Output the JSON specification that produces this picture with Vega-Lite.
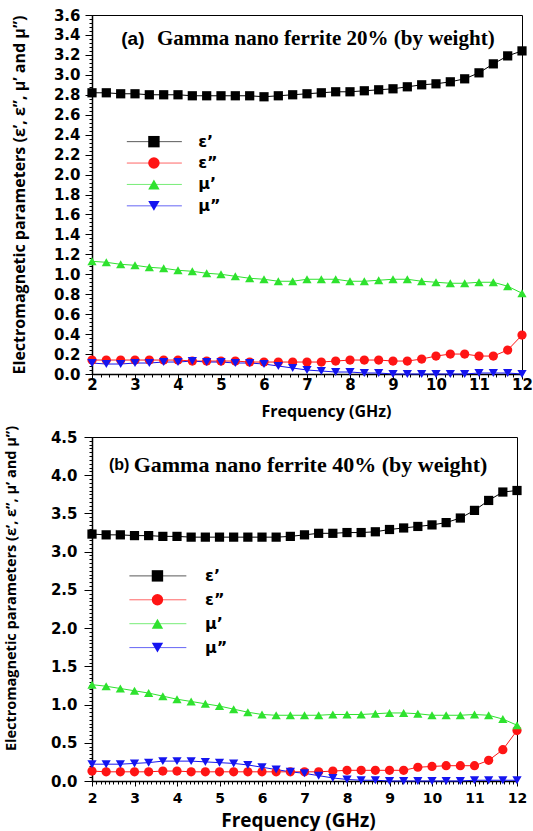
{
  "$schema": "https://vega.github.io/schema/vega-lite/v6.json",
  "padding": {"left": 2, "top": 7, "right": 5, "bottom": 0},
  "background": "white",
  "spacing": 4,
  "config": {
    "view": {"stroke": "#000", "strokeWidth": 1},
    "axis": {
      "grid": false, "domainColor": "#000", "domainWidth": 1.5, "tickColor": "#000", "tickWidth": 1,
      "labelColor": "#000", "labelFont": "DejaVu Sans", "labelFontWeight": "bold",
      "titleColor": "#000", "titleFont": "Open Sans", "titleFontWeight": "bold",
      "labelOverlap": false, "labelFlush": false
    }
  },
  "datasets": {
    "a": [
      {"f": 2, "ε’": 2.82, "ε”": 0.14, "μ’": 1.13, "μ”": 0.11},
      {"f": 2.333, "ε’": 2.82, "ε”": 0.14, "μ’": 1.12, "μ”": 0.10},
      {"f": 2.667, "ε’": 2.81, "ε”": 0.14, "μ’": 1.10, "μ”": 0.10},
      {"f": 3, "ε’": 2.81, "ε”": 0.14, "μ’": 1.09, "μ”": 0.11},
      {"f": 3.333, "ε’": 2.80, "ε”": 0.14, "μ’": 1.07, "μ”": 0.11},
      {"f": 3.667, "ε’": 2.80, "ε”": 0.14, "μ’": 1.06, "μ”": 0.12},
      {"f": 4, "ε’": 2.80, "ε”": 0.14, "μ’": 1.04, "μ”": 0.12},
      {"f": 4.333, "ε’": 2.79, "ε”": 0.13, "μ’": 1.03, "μ”": 0.13},
      {"f": 4.667, "ε’": 2.79, "ε”": 0.13, "μ’": 1.01, "μ”": 0.12},
      {"f": 5, "ε’": 2.79, "ε”": 0.13, "μ’": 1.00, "μ”": 0.12},
      {"f": 5.333, "ε’": 2.79, "ε”": 0.13, "μ’": 0.98, "μ”": 0.11},
      {"f": 5.667, "ε’": 2.79, "ε”": 0.12, "μ’": 0.96, "μ”": 0.11},
      {"f": 6, "ε’": 2.78, "ε”": 0.12, "μ’": 0.95, "μ”": 0.10},
      {"f": 6.333, "ε’": 2.79, "ε”": 0.12, "μ’": 0.93, "μ”": 0.08},
      {"f": 6.667, "ε’": 2.80, "ε”": 0.12, "μ’": 0.93, "μ”": 0.06},
      {"f": 7, "ε’": 2.81, "ε”": 0.12, "μ’": 0.95, "μ”": 0.04},
      {"f": 7.333, "ε’": 2.82, "ε”": 0.12, "μ’": 0.95, "μ”": 0.03},
      {"f": 7.667, "ε’": 2.83, "ε”": 0.13, "μ’": 0.95, "μ”": 0.02},
      {"f": 8, "ε’": 2.83, "ε”": 0.14, "μ’": 0.93, "μ”": 0.02},
      {"f": 8.333, "ε’": 2.84, "ε”": 0.14, "μ’": 0.93, "μ”": 0.01},
      {"f": 8.667, "ε’": 2.85, "ε”": 0.14, "μ’": 0.94, "μ”": 0.01},
      {"f": 9, "ε’": 2.86, "ε”": 0.13, "μ’": 0.95, "μ”": 0.00},
      {"f": 9.333, "ε’": 2.88, "ε”": 0.13, "μ’": 0.95, "μ”": 0.00},
      {"f": 9.667, "ε’": 2.90, "ε”": 0.15, "μ’": 0.93, "μ”": 0.00},
      {"f": 10, "ε’": 2.91, "ε”": 0.18, "μ’": 0.92, "μ”": 0.00},
      {"f": 10.333, "ε’": 2.93, "ε”": 0.20, "μ’": 0.91, "μ”": 0.00},
      {"f": 10.667, "ε’": 2.96, "ε”": 0.20, "μ’": 0.91, "μ”": 0.00},
      {"f": 11, "ε’": 3.02, "ε”": 0.18, "μ’": 0.92, "μ”": 0.01},
      {"f": 11.333, "ε’": 3.11, "ε”": 0.18, "μ’": 0.92, "μ”": 0.01},
      {"f": 11.667, "ε’": 3.19, "ε”": 0.24, "μ’": 0.88, "μ”": 0.01},
      {"f": 12, "ε’": 3.24, "ε”": 0.39, "μ’": 0.81, "μ”": 0.00}
    ],
    "b": [
      {"f": 2, "ε’": 3.23, "ε”": 0.13, "μ’": 1.26, "μ”": 0.22},
      {"f": 2.333, "ε’": 3.22, "ε”": 0.12, "μ’": 1.24, "μ”": 0.22},
      {"f": 2.667, "ε’": 3.22, "ε”": 0.12, "μ’": 1.21, "μ”": 0.22},
      {"f": 3, "ε’": 3.21, "ε”": 0.12, "μ’": 1.18, "μ”": 0.23},
      {"f": 3.333, "ε’": 3.21, "ε”": 0.12, "μ’": 1.15, "μ”": 0.24},
      {"f": 3.667, "ε’": 3.20, "ε”": 0.13, "μ’": 1.11, "μ”": 0.26},
      {"f": 4, "ε’": 3.20, "ε”": 0.13, "μ’": 1.07, "μ”": 0.26},
      {"f": 4.333, "ε’": 3.19, "ε”": 0.12, "μ’": 1.04, "μ”": 0.26},
      {"f": 4.667, "ε’": 3.19, "ε”": 0.12, "μ’": 1.01, "μ”": 0.25},
      {"f": 5, "ε’": 3.19, "ε”": 0.12, "μ’": 0.98, "μ”": 0.24},
      {"f": 5.333, "ε’": 3.19, "ε”": 0.12, "μ’": 0.94, "μ”": 0.23},
      {"f": 5.667, "ε’": 3.19, "ε”": 0.12, "μ’": 0.90, "μ”": 0.21},
      {"f": 6, "ε’": 3.19, "ε”": 0.12, "μ’": 0.87, "μ”": 0.18},
      {"f": 6.333, "ε’": 3.19, "ε”": 0.12, "μ’": 0.86, "μ”": 0.15},
      {"f": 6.667, "ε’": 3.20, "ε”": 0.12, "μ’": 0.86, "μ”": 0.12},
      {"f": 7, "ε’": 3.22, "ε”": 0.12, "μ’": 0.86, "μ”": 0.10},
      {"f": 7.333, "ε’": 3.24, "ε”": 0.12, "μ’": 0.86, "μ”": 0.07},
      {"f": 7.667, "ε’": 3.24, "ε”": 0.13, "μ’": 0.87, "μ”": 0.04},
      {"f": 8, "ε’": 3.25, "ε”": 0.14, "μ’": 0.87, "μ”": 0.02},
      {"f": 8.333, "ε’": 3.25, "ε”": 0.14, "μ’": 0.87, "μ”": 0.01},
      {"f": 8.667, "ε’": 3.26, "ε”": 0.14, "μ’": 0.88, "μ”": 0.01},
      {"f": 9, "ε’": 3.29, "ε”": 0.14, "μ’": 0.89, "μ”": 0.00},
      {"f": 9.333, "ε’": 3.31, "ε”": 0.14, "μ’": 0.89, "μ”": 0.00},
      {"f": 9.667, "ε’": 3.33, "ε”": 0.18, "μ’": 0.88, "μ”": 0.00},
      {"f": 10, "ε’": 3.35, "ε”": 0.19, "μ’": 0.86, "μ”": 0.00},
      {"f": 10.333, "ε’": 3.38, "ε”": 0.20, "μ’": 0.86, "μ”": 0.00},
      {"f": 10.667, "ε’": 3.44, "ε”": 0.20, "μ’": 0.86, "μ”": 0.00},
      {"f": 11, "ε’": 3.54, "ε”": 0.20, "μ’": 0.87, "μ”": 0.01},
      {"f": 11.333, "ε’": 3.67, "ε”": 0.27, "μ’": 0.86, "μ”": 0.01},
      {"f": 11.667, "ε’": 3.78, "ε”": 0.41, "μ’": 0.81, "μ”": 0.01},
      {"f": 12, "ε’": 3.80, "ε”": 0.66, "μ’": 0.73, "μ”": 0.01}
    ],
    "leg": [
      {"s": "ε’", "i": 0},
      {"s": "ε”", "i": 1},
      {"s": "μ’", "i": 2},
      {"s": "μ”", "i": 3}
    ]
  },
  "vconcat": [
    {
      "width": 430, "height": 359,
      "layer": [
        {
          "layer": [
            {
              "data": {"name": "a"},
              "transform": [{"fold": ["ε’", "ε”", "μ’", "μ”"], "as": ["s", "v"]}],
              "layer": [
                {
                  "mark": {"type": "line", "strokeWidth": 1},
                  "encoding": {
                    "x": {"field": "f", "type": "quantitative", "scale": {"domain": [2, 12], "nice": false, "zero": false},
                      "axis": {"title": "Frequency (GHz)", "orient": "bottom", "values": [2,3,4,5,6,7,8,9,10,11,12], "format": "d",
                        "tickSize": 5, "labelFontSize": 15, "labelPadding": -2, "titleFontSize": 16, "titlePadding": 11, "titleX": 234}},
                    "y": {"field": "v", "type": "quantitative", "scale": {"domain": [0, 3.6], "nice": false},
                      "axis": {"title": "Electromagnetic parameters (ε’, ε”, μ’ and μ”)", "orient": "left",
                        "values": [0,0.2,0.4,0.6,0.8,1,1.2,1.4,1.6,1.8,2,2.2,2.4,2.6,2.8,3,3.2,3.4,3.6], "format": ".1f",
                        "tickSize": 7, "labelFontSize": 15, "labelPadding": 5, "titleFontSize": 16, "titleX": -65}},
                    "color": {"field": "s", "type": "nominal", "scale": {"domain": ["ε’", "ε”", "μ’", "μ”"], "range": ["#000000", "#ff1414", "#2ee22e", "#1414f0"]}, "legend": null}
                  }
                },
                {
                  "mark": {"type": "point", "filled": true, "size": 85, "opacity": 1},
                  "encoding": {
                    "x": {"field": "f", "type": "quantitative",
                      "axis": {"orient": "bottom", "title": null, "labels": false, "domain": false, "tickSize": 3, "tickCount": 50}},
                    "y": {"field": "v", "type": "quantitative",
                      "axis": {"orient": "left", "title": null, "labels": false, "domain": false, "tickSize": 3,
                        "values": [0,0.04,0.08,0.12,0.16,0.2,0.24,0.28,0.32,0.36,0.4,0.44,0.48,0.52,0.56,0.6,0.64,0.68,0.72,0.76,0.8,0.84,0.88,0.92,0.96,1,1.04,1.08,1.12,1.16,1.2,1.24,1.28,1.32,1.36,1.4,1.44,1.48,1.52,1.56,1.6,1.64,1.68,1.72,1.76,1.8,1.84,1.88,1.92,1.96,2,2.04,2.08,2.12,2.16,2.2,2.24,2.28,2.32,2.36,2.4,2.44,2.48,2.52,2.56,2.6,2.64,2.68,2.72,2.76,2.8,2.84,2.88,2.92,2.96,3,3.04,3.08,3.12,3.16,3.2,3.24,3.28,3.32,3.36,3.4,3.44,3.48,3.52,3.56,3.6]}},
                    "color": {"field": "s", "type": "nominal", "legend": null},
                    "shape": {"field": "s", "type": "nominal", "scale": {"domain": ["ε’", "ε”", "μ’", "μ”"], "range": ["square", "circle", "triangle-up", "triangle-down"]}, "legend": null}
                  }
                }
              ],
              "resolve": {"axis": {"x": "independent", "y": "independent"}}
            },
            {
              "data": {"values": [{}]},
              "mark": {"type": "text", "font": "Liberation Sans", "fontWeight": "bold", "fontSize": 19, "align": "left", "baseline": "middle"},
              "encoding": {"x": {"datum": 2.68, "axis": null}, "y": {"datum": 3.355, "axis": null}, "text": {"value": "(a)"}}
            },
            {
              "data": {"values": [{}]},
              "mark": {"type": "text", "font": "Liberation Serif", "fontWeight": "bold", "fontSize": 21, "align": "left", "baseline": "middle"},
              "encoding": {"x": {"datum": 3.51, "axis": null}, "y": {"datum": 3.355, "axis": null}, "text": {"value": "Gamma nano ferrite 20% (by weight)"}}
            }
          ]
        },
        {
          "data": {"name": "leg"},
          "layer": [
            {
              "mark": {"type": "rule", "strokeWidth": 1, "opacity": 0.65},
              "encoding": {
                "x": {"datum": 2.81, "axis": null}, "x2": {"datum": 4.09},
                "y": {"field": "i", "type": "quantitative", "scale": {"domain": [-5.92, 10.86], "reverse": true, "nice": false, "zero": false}, "axis": null},
                "color": {"field": "s", "type": "nominal", "legend": null}
              }
            },
            {
              "mark": {"type": "point", "filled": true, "size": 130, "opacity": 1},
              "encoding": {
                "x": {"datum": 3.44, "axis": null},
                "y": {"field": "i", "type": "quantitative", "axis": null},
                "color": {"field": "s", "type": "nominal", "legend": null},
                "shape": {"field": "s", "type": "nominal", "legend": null}
              }
            },
            {
              "mark": {"type": "text", "align": "left", "baseline": "middle", "font": "DejaVu Sans", "fontWeight": "bold", "fontSize": 16, "color": "#000"},
              "encoding": {
                "x": {"datum": 4.47, "axis": null},
                "y": {"field": "i", "type": "quantitative", "axis": null},
                "text": {"field": "s"}
              }
            }
          ]
        }
      ],
      "resolve": {"scale": {"y": "independent"}}
    },
    {
      "width": 425, "height": 344,
      "layer": [
        {
          "layer": [
            {
              "data": {"name": "b"},
              "transform": [{"fold": ["ε’", "ε”", "μ’", "μ”"], "as": ["s", "v"]}],
              "layer": [
                {
                  "mark": {"type": "line", "strokeWidth": 1},
                  "encoding": {
                    "x": {"field": "f", "type": "quantitative", "scale": {"domain": [2, 12], "nice": false, "zero": false},
                      "axis": {"title": "Frequency (GHz)", "orient": "bottom", "values": [2,3,4,5,6,7,8,9,10,11,12], "format": "d",
                        "tickSize": 5, "labelFontSize": 14, "labelPadding": 5, "titleFontSize": 19, "titlePadding": 6, "titleX": 206}},
                    "y": {"field": "v", "type": "quantitative", "scale": {"domain": [0, 4.5], "nice": false},
                      "axis": {"title": "Electromagnetic parameters (ε’, ε”, μ’ and μ”)", "orient": "left",
                        "values": [0,0.5,1,1.5,2,2.5,3,3.5,4,4.5], "format": ".1f",
                        "tickSize": 8, "labelFontSize": 15, "labelPadding": 7, "titleFontSize": 14.5, "titleX": -74, "titleY": 151}},
                    "color": {"field": "s", "type": "nominal", "scale": {"domain": ["ε’", "ε”", "μ’", "μ”"], "range": ["#000000", "#ff1414", "#2ee22e", "#1414f0"]}, "legend": null}
                  }
                },
                {
                  "mark": {"type": "point", "filled": true, "size": 85, "opacity": 1},
                  "encoding": {
                    "x": {"field": "f", "type": "quantitative",
                      "axis": {"orient": "bottom", "title": null, "labels": false, "domain": false, "tickSize": 3, "tickCount": 100}},
                    "y": {"field": "v", "type": "quantitative",
                      "axis": {"orient": "left", "title": null, "labels": false, "domain": false, "tickSize": 3, "tickCount": 90}},
                    "color": {"field": "s", "type": "nominal", "legend": null},
                    "shape": {"field": "s", "type": "nominal", "scale": {"domain": ["ε’", "ε”", "μ’", "μ”"], "range": ["square", "circle", "triangle-up", "triangle-down"]}, "legend": null}
                  }
                }
              ],
              "resolve": {"axis": {"x": "independent", "y": "independent"}}
            },
            {
              "data": {"values": [{}]},
              "mark": {"type": "text", "font": "Liberation Sans", "fontWeight": "bold", "fontSize": 16, "align": "left", "baseline": "middle"},
              "encoding": {"x": {"datum": 2.4, "axis": null}, "y": {"datum": 4.14, "axis": null}, "text": {"value": "(b)"}}
            },
            {
              "data": {"values": [{}]},
              "mark": {"type": "text", "font": "Liberation Serif", "fontWeight": "bold", "fontSize": 22, "align": "left", "baseline": "middle"},
              "encoding": {"x": {"datum": 2.98, "axis": null}, "y": {"datum": 4.14, "axis": null}, "text": {"value": "Gamma nano ferrite 40% (by weight)"}}
            }
          ]
        },
        {
          "data": {"name": "leg"},
          "layer": [
            {
              "mark": {"type": "rule", "strokeWidth": 1, "opacity": 0.65},
              "encoding": {
                "x": {"datum": 2.88, "axis": null}, "x2": {"datum": 4.22},
                "y": {"field": "i", "type": "quantitative", "scale": {"domain": [-5.81, 8.58], "reverse": true, "nice": false, "zero": false}, "axis": null},
                "color": {"field": "s", "type": "nominal", "legend": null}
              }
            },
            {
              "mark": {"type": "point", "filled": true, "size": 130, "opacity": 1},
              "encoding": {
                "x": {"datum": 3.54, "axis": null},
                "y": {"field": "i", "type": "quantitative", "axis": null},
                "color": {"field": "s", "type": "nominal", "legend": null},
                "shape": {"field": "s", "type": "nominal", "legend": null}
              }
            },
            {
              "mark": {"type": "text", "align": "left", "baseline": "middle", "font": "DejaVu Sans", "fontWeight": "bold", "fontSize": 16, "color": "#000"},
              "encoding": {
                "x": {"datum": 4.66, "axis": null},
                "y": {"field": "i", "type": "quantitative", "axis": null},
                "text": {"field": "s"}
              }
            }
          ]
        }
      ],
      "resolve": {"scale": {"y": "independent"}}
    }
  ]
}
